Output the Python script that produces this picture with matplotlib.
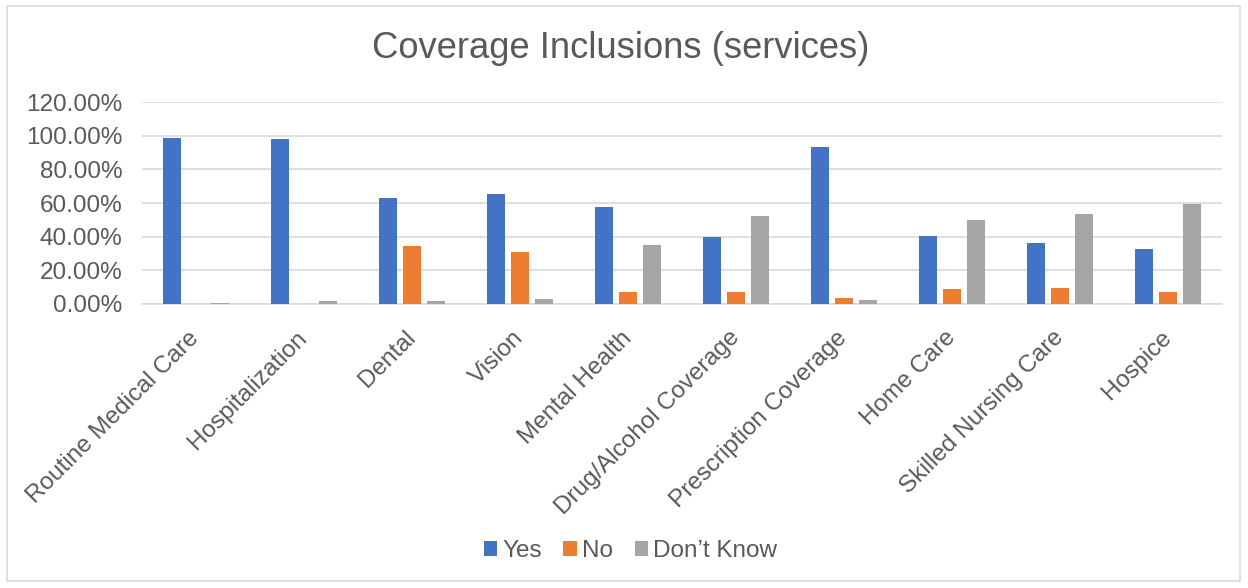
import numpy as np
import matplotlib.pyplot as plt
from matplotlib.ticker import FuncFormatter

plt.rcParams['font.family'] = ['Liberation Sans', 'DejaVu Sans']

categories = ["Routine Medical Care", "Hospitalization", "Dental", "Vision",
              "Mental Health", "Drug/Alcohol Coverage", "Prescription Coverage",
              "Home Care", "Skilled Nursing Care", "Hospice"]
yes_vals = [98.6, 98.0, 63.2, 65.3, 57.8, 40.0, 93.3, 40.6, 36.4, 32.7]
no_vals = [0.0, 0.0, 34.5, 30.9, 6.9, 7.3, 3.8, 9.1, 9.3, 7.3]
dk_vals = [0.8, 1.8, 2.0, 3.2, 35.2, 52.5, 2.6, 50.1, 53.7, 59.2]
series_names = ["Yes", "No", "Don\u2019t Know"]
colors = ["#4472c4", "#ed7d31", "#a5a5a5"]

text_col = "#595959"

fig = plt.figure(figsize=(12.48, 5.88), dpi=100)
ax = fig.add_axes([142/1248, 1-304/588, 1080/1248, 202/588])

x = np.arange(len(categories))
pitch = 0.222
width = 0.175
for i, (vals, name, col) in enumerate(zip([yes_vals, no_vals, dk_vals], series_names, colors)):
    ax.bar(x + (i-1)*pitch, vals, width, color=col, label=name, zorder=3)

ax.set_xlim(-0.5, len(categories)-0.5)
ax.set_ylim(0, 120)
ax.set_yticks(np.arange(0, 121, 20))
ax.yaxis.set_major_formatter(FuncFormatter(lambda v, p: "%.2f%%" % v))
ax.grid(axis='y', color='#d9d9d9', lw=1.2, zorder=0)
for s in ['top', 'right', 'left']:
    ax.spines[s].set_visible(False)
ax.spines['bottom'].set_color('#d9d9d9')
ax.spines['bottom'].set_linewidth(1.2)
ax.tick_params(axis='both', length=0, labelsize=17.5, colors=text_col)
ax.tick_params(axis='y', pad=14)
ax.set_xticks(x)
ax.set_xticklabels(categories, rotation=45, ha='right', va='center', rotation_mode='anchor')
ax.tick_params(axis='x', pad=22)

fig.text(0.497, 1-48/588, "Coverage Inclusions (services)", ha='center', va='center',
         fontsize=26.2, color=text_col)

leg = fig.legend(loc='center', bbox_to_anchor=(0.505, 1-551/588), ncol=3, frameon=False,
                 fontsize=17.5, handlelength=0.55, handleheight=0.55, handletextpad=0.2,
                 columnspacing=0.9, labelcolor=text_col)

fig.patches.append(plt.Rectangle((7/1248, 1-581/588), 1233/1248, 575/588,
                                 transform=fig.transFigure, fill=False,
                                 edgecolor='#d9d9d9', lw=1.2))

fig.savefig("out.png", dpi=100)
